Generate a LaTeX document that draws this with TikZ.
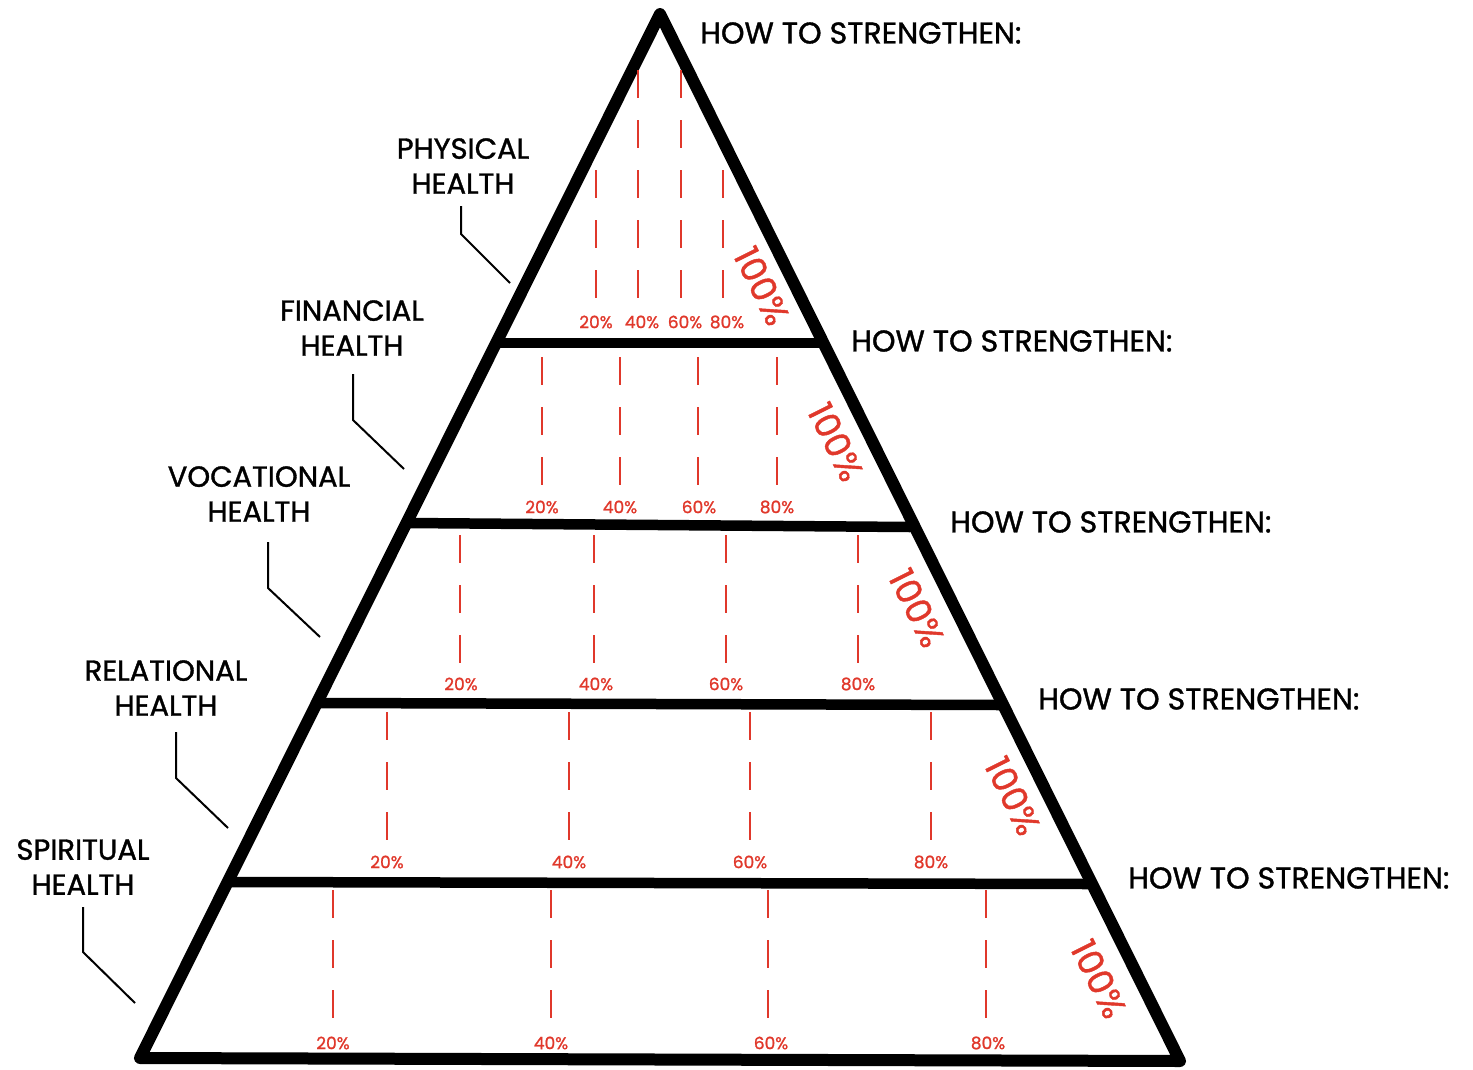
\documentclass[tikz,border=0pt]{standalone}
\usepackage{fontspec}
\setmainfont{Poppins}[FakeBold=1.2]
\definecolor{pct}{HTML}{E0382B}
\begin{document}
\begin{tikzpicture}[x=1pt,y=-1pt,
  edge/.style={line width=12pt,line join=round,line cap=round},
  bar/.style={line width=10.5pt,line cap=round},
  guide/.style={pct,line width=2.4pt,dash pattern=on 28pt off 22pt},
  pctlbl/.style={pct,font=\fontsize{17}{17}\selectfont,inner sep=0pt},
  full/.style={pct,font=\fontsize{35}{35}\selectfont,rotate=-63.6,inner sep=0pt},
  howto/.style={anchor=west,font=\fontsize{30}{30}\selectfont,inner sep=0pt},
  area/.style={align=center,font=\fontsize{29}{35}\selectfont,inner sep=0pt},
  leader/.style={line width=2pt}]
\useasboundingbox (0,0) rectangle (1473,1069);
% triangle corners
\coordinate (apex) at (660,14);
\coordinate (bl) at (140,1058);
\coordinate (br) at (1180,1061);
\draw[edge] (apex) -- (bl) -- (br) -- cycle;
% horizontal bars
\coordinate (b1l) at (498,343); \coordinate (b1r) at (822,343);
\coordinate (b2l) at (408,523); \coordinate (b2r) at (910,527);
\coordinate (b3l) at (320,703); \coordinate (b3r) at (1000,705);
\coordinate (b4l) at (232,882); \coordinate (b4r) at (1088,884);
\draw[bar] (b1l) -- (b1r);
\draw[bar] (b2l) -- (b2r);
\draw[bar] (b3l) -- (b3r);
\draw[bar] (b4l) -- (b4r);
% dashed guides
\foreach \x/\ya/\yb in {596/170/300,638/70/300,681/70/300,723/170/300}
  \draw[guide] (\x,\ya) -- (\x,\yb);
\foreach \x/\ya/\yb in {542/357/492,620/357/492,698/357/492,777/357/492}
  \draw[guide] (\x,\ya) -- (\x,\yb);
\foreach \x/\ya/\yb in {460/535/670,594/535/670,726/535/670,858/535/670}
  \draw[guide] (\x,\ya) -- (\x,\yb);
\foreach \x/\ya/\yb in {387/712/847,569/712/847,750/712/847,931/712/847}
  \draw[guide] (\x,\ya) -- (\x,\yb);
\foreach \x/\ya/\yb in {333/890/1025,551/890/1025,768/890/1025,986/890/1025}
  \draw[guide] (\x,\ya) -- (\x,\yb);
% percentage labels
\node[pctlbl] (p11) at (596,322) {20\%};
\node[pctlbl] (p12) at (642,322) {40\%};
\node[pctlbl] (p13) at (685,322) {60\%};
\node[pctlbl] (p14) at (727,322) {80\%};
\node[pctlbl] (p21) at (542,507) {20\%};
\node[pctlbl] (p22) at (620,507) {40\%};
\node[pctlbl] (p23) at (699,507) {60\%};
\node[pctlbl] (p24) at (777,507) {80\%};
\node[pctlbl] (p31) at (461,684) {20\%};
\node[pctlbl] (p32) at (596,684) {40\%};
\node[pctlbl] (p33) at (726,684) {60\%};
\node[pctlbl] (p34) at (858,684) {80\%};
\node[pctlbl] (p41) at (387,862) {20\%};
\node[pctlbl] (p42) at (569,862) {40\%};
\node[pctlbl] (p43) at (750,862) {60\%};
\node[pctlbl] (p44) at (931,862) {80\%};
\node[pctlbl] (p51) at (333,1043) {20\%};
\node[pctlbl] (p52) at (551,1043) {40\%};
\node[pctlbl] (p53) at (771,1043) {60\%};
\node[pctlbl] (p54) at (988,1043) {80\%};
% 100% labels
\node[full] (f1) at (762,286) {100\%};
\node[full] (f2) at (836,442) {100\%};
\node[full] (f3) at (917,608) {100\%};
\node[full] (f4) at (1013,796) {100\%};
\node[full] (f5) at (1099,979) {100\%};
% how to strengthen
\node[howto] (h1) at (700,33) {HOW TO STRENGTHEN:};
\node[howto] (h2) at (851,341) {HOW TO STRENGTHEN:};
\node[howto] (h3) at (950,522) {HOW TO STRENGTHEN:};
\node[howto] (h4) at (1038,699) {HOW TO STRENGTHEN:};
\node[howto] (h5) at (1128,878) {HOW TO STRENGTHEN:};
% area labels
\node[area] (a1) at (463,166) {PHYSICAL\\HEALTH};
\node[area] (a2) at (352,328) {FINANCIAL\\HEALTH};
\node[area] (a3) at (259,494) {VOCATIONAL\\HEALTH};
\node[area] (a4) at (166,688) {RELATIONAL\\HEALTH};
\node[area] (a5) at (83,867) {SPIRITUAL\\HEALTH};
% leaders
\coordinate (l1a) at (461,206); \coordinate (l1b) at (461,234); \coordinate (l1c) at (510,283);
\coordinate (l2a) at (353,374); \coordinate (l2b) at (353,420); \coordinate (l2c) at (404,469);
\coordinate (l3a) at (268,542); \coordinate (l3b) at (268,588); \coordinate (l3c) at (320,637);
\coordinate (l4a) at (176,732); \coordinate (l4b) at (176,778); \coordinate (l4c) at (228,828);
\coordinate (l5a) at (83,907); \coordinate (l5b) at (83,952); \coordinate (l5c) at (135,1003);
\draw[leader] (l1a) -- (l1b) -- (l1c);
\draw[leader] (l2a) -- (l2b) -- (l2c);
\draw[leader] (l3a) -- (l3b) -- (l3c);
\draw[leader] (l4a) -- (l4b) -- (l4c);
\draw[leader] (l5a) -- (l5b) -- (l5c);
\end{tikzpicture}
\end{document}
